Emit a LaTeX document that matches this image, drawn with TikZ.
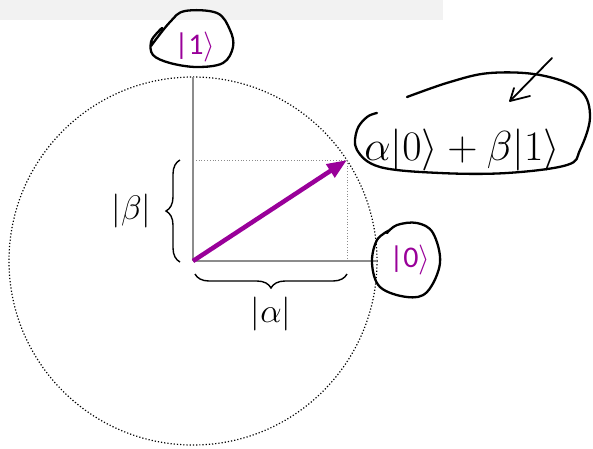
\RequirePackage{fix-cm}
\documentclass[tikz,border=0pt]{standalone}
\usepackage{fontspec}
\setsansfont{Carlito}
\usetikzlibrary{arrows.meta,decorations.pathreplacing}
\definecolor{ketcolor}{RGB}{153,0,153}
\definecolor{axiscolor}{RGB}{140,140,140}
\definecolor{bannercolor}{RGB}{242,242,242}
\tikzset{
  axis line/.style={
    draw=axiscolor,
    line width=2.2pt
  },
  guide line/.style={
    draw=axiscolor,
    dotted,
    line width=0.8pt
  },
  ket label/.style={
    text=ketcolor,
    inner sep=0pt,
    font=\sffamily\fontsize{30}{32}\selectfont
  },
  math label/.style={
    inner sep=0pt,
    font=\fontsize{34}{36}\selectfont
  },
  ink/.style={
    draw=black,
    line width=2.3pt,
    line cap=round,
    line join=round
  },
  curly/.style={
    decorate,
    decoration={brace, amplitude=14pt},
    line width=1.4pt
  },
  state arrow/.style={
    draw=ketcolor,
    line width=4.5pt,
    -{Triangle[length=20pt, width=15pt]}
  }
}

\begin{document}
\begin{tikzpicture}[x=1pt, y=-1pt]
  \useasboundingbox (0,0) rectangle (593,448);

  % banner
  \fill[bannercolor] (0,0) rectangle (443,20);

  % unit circle
  \coordinate (origin) at (193,261);
  \draw[dotted, line width=1.2pt] (origin) circle[radius=184];

  % axes
  \coordinate (xend) at (377,261);
  \coordinate (yend) at (193,77);
  \draw[axis line] (origin) -- (xend);
  \draw[axis line] (origin) -- (yend);

  % projections
  \coordinate (state) at (347,160);
  \coordinate (xproj) at (347,261);
  \coordinate (yproj) at (193,160);
  \draw[guide line] (yproj) -- (state) -- (xproj);

  % state vector
  \draw[state arrow] (origin) -- (state);

  % braces
  \coordinate (bbot) at (180,262);
  \coordinate (btop) at (180,160);
  \draw[curly] (bbot) -- (btop) node[midway, left=28pt, math label] {$|\beta|$};
  \coordinate (aright) at (347,274);
  \coordinate (aleft) at (195,274);
  \draw[curly] (aright) -- (aleft) node[midway, below=22pt, math label] {$|\alpha|$};

  % kets
  \node[ket label] (ketone) at (195,47) {|1$\rangle$};
  \node[ket label] (ketzero) at (410,260) {|0$\rangle$};
  \node[math label, font=\fontsize{42}{44}\selectfont] (superpos) at (462,150) {$\alpha|0\rangle+\beta|1\rangle$};

  % hand-drawn marks
  \draw[ink] plot[smooth, tension=0.6] coordinates {(162,28) (157,33) (151,42) (153,55) (170,63) (197,67) (223,63) (233,47) (230,30) (217,13) (185,11) (170,22) (151,46)};
  \draw[ink] plot[smooth, tension=0.6] coordinates {(387,233) (397,225) (417,223) (433,233) (440,263) (427,292) (407,297) (380,287) (372,263) (377,240) (390,230)};
  \draw[ink] plot[smooth, tension=0.6] coordinates {(407,97) (450,82) (490,73) (540,75) (580,90) (590,117) (580,150) (567,165) (507,173) (440,173) (380,167) (357,150) (357,130) (367,117) (377,113)};
  \coordinate (strokestart) at (552,58);
  \coordinate (stroketip) at (510,101);
  \draw[ink, line width=1.8pt] (strokestart) -- (stroketip);
  \draw[ink, line width=1.8pt] (514,88) -- (stroketip) -- (530,96);
\end{tikzpicture}
\end{document}
